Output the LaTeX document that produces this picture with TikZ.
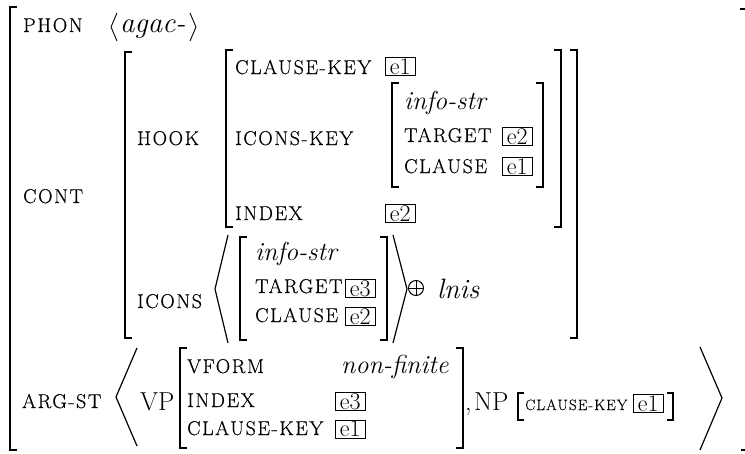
\documentclass[tikz,border=0pt]{standalone}
\usepackage{fontspec}
\setmainfont{Latin Modern Roman}
\newfontfamily\capsf[LetterSpace=8,FakeBold=0.4]{Latin Modern Roman}
\tikzset{
  lab/.style={font=\fontsize{20}{24}\capsf\selectfont, anchor=base west, inner sep=0pt},
  labsm/.style={font=\fontsize{15}{18}\capsf\selectfont, anchor=base west, inner sep=0pt},
  ital/.style={font=\fontsize{26}{30}\selectfont\itshape, anchor=base west, inner sep=0pt},
  rom/.style={font=\fontsize{26}{30}\selectfont, anchor=base west, inner sep=0pt},
  tagbox/.style={draw, line width=0.7pt, font=\fontsize{24}{28}\selectfont, inner sep=0pt,
     minimum width=30pt, minimum height=18pt, anchor=west},
  brk/.style={line width=2.2pt, line cap=butt, line join=miter},
  ang/.style={line width=1.2pt, line join=miter},
  angsm/.style={line width=0.9pt, line join=miter},
}
\begin{document}
\begin{tikzpicture}[x=1pt,y=-1pt]
\useasboundingbox (0,0) rectangle (745,453);
% outer bracket
\draw[brk] (17,7) -- (10,7) -- (10,450) -- (17,450);
\draw[line width=1.5pt] (740,9) -- (745,9);
\draw[line width=1.5pt] (741,450) -- (745,450);
% top level labels
\node[lab] (phon) at (23,32) {PHON};
\draw[angsm] (117,13) -- (111,27) -- (117,41);
\node[ital, font=\fontsize{29}{33}\selectfont\itshape] (phonv) at (120,32) {agac-};
\draw[angsm] (190,13) -- (196,27) -- (190,41);
\node[lab] (cont) at (23,203) {CONT};
\node[lab] (argst) at (22,408) {ARG-ST};
% CONT value
\draw[brk] (132,52) -- (125,52) -- (125,338) -- (132,338);
\draw[brk] (570,50) -- (577,50) -- (577,338) -- (570,338);
\node[lab] (hook) at (137,145) {HOOK};
\node[lab] (icons) at (137,308) {ICONS};
% HOOK value
\draw[brk] (233,50) -- (226,50) -- (226,227) -- (233,227);
\draw[brk] (554,50) -- (561,50) -- (561,227) -- (554,227);
\node[lab] (ck) at (235,74) {CLAUSE-KEY};
\node[tagbox] (ck1) at (385,66.5) {e1};
\node[lab] (ik) at (235,145) {ICONS-KEY};
\node[lab] (idx) at (235,220) {INDEX};
\node[tagbox] (idx2) at (385,213.5) {e2};
% ICONS-KEY value
\draw[brk] (399,83) -- (392,83) -- (392,187) -- (399,187);
\draw[brk] (536,83) -- (543,83) -- (543,187) -- (536,187);
\node[ital] (is1) at (404,109) {info-str};
\node[lab] (tg1) at (404,142) {TARGET};
\node[tagbox] (tg1v) at (502,136.5) {e2};
\node[lab] (cl1) at (404,173) {CLAUSE};
\node[tagbox] (cl1v) at (502,166.5) {e1};
% ICONS list
\draw[ang] (228,235) -- (215,289) -- (228,343);
\draw[brk] (247,237) -- (240,237) -- (240,340) -- (247,340);
\node[ital] (is2) at (255,260) {info-str};
\node[lab] (tg2) at (255,293) {TARGET};
\node[tagbox] (tg2v) at (345,288.5) {e3};
\node[lab] (cl2) at (255,322) {CLAUSE};
\node[tagbox] (cl2v) at (345,316.5) {e2};
\draw[brk] (380,237) -- (387,237) -- (387,340) -- (380,340);
\draw[ang] (393,235) -- (407,289) -- (393,343);
\coordinate (op) at (416,288);
\draw[line width=1pt] (op) circle[radius=7.5pt];
\draw[line width=1pt] ([xshift=-7.5pt]op) -- ([xshift=7.5pt]op);
\draw[line width=1pt] ([yshift=-7.5pt]op) -- ([yshift=7.5pt]op);
\node[ital, font=\fontsize{28}{32}\selectfont\itshape] (lnis) at (437,298) {lnis};
% ARG-ST list
\draw[ang] (137,348) -- (116,397) -- (137,446);
\node[rom] (vp) at (140,410) {VP};
\draw[brk] (187,348) -- (180,348) -- (180,448) -- (187,448);
\node[lab] (vf) at (187,373) {VFORM};
\node[ital] (vfv) at (341,373) {non-finite};
\node[lab] (idx3) at (187,407) {INDEX};
\node[tagbox] (idx3v) at (335,401.5) {e3};
\node[lab] (ck3) at (187,435) {CLAUSE-KEY};
\node[tagbox] (ck3v) at (335,429) {e1};
\draw[brk] (456,348) -- (463,348) -- (463,448) -- (456,448);
\node[rom] (comma) at (465,410) {,};
\node[rom] (np) at (474,410) {NP};
\draw[brk] (524,393) -- (518,393) -- (518,420) -- (524,420);
\node[labsm] (ck4) at (525,410) {CLAUSE-KEY};
\node[tagbox] (ck4v) at (633,403.5) {e1};
\draw[brk] (667,393) -- (673,393) -- (673,420) -- (667,420);
\draw[ang] (700,347) -- (722,398) -- (700,450);
\end{tikzpicture}
\end{document}
